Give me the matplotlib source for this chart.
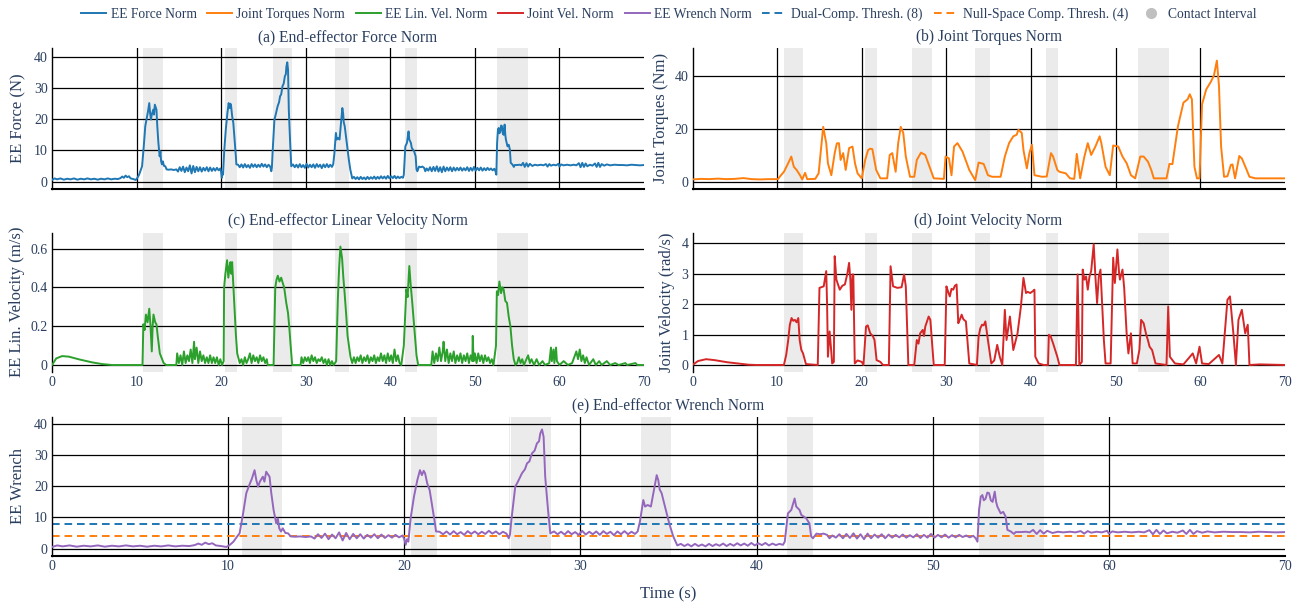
import matplotlib
matplotlib.use("Agg")
import matplotlib.pyplot as plt
from matplotlib.lines import Line2D

plt.rcParams['font.family'] = ['Liberation Serif', 'DejaVu Serif']
plt.rcParams['lines.scale_dashes'] = False

# ---------------- data ----------------
contact_intervals = [(10.78, 13.07), (20.40, 21.84), (25.97, 26.03), (26.08, 28.35),
                     (33.42, 35.14), (41.73, 43.18), (52.63, 56.31)]
dual_thresh = 8
null_thresh = 4

force_pts = [
    (0, 0.5), (0.3, 1.0), (0.6, 0.7), (1.0, 1.0), (1.4, 0.6), (1.8, 0.9), (2.2, 0.7), (2.6, 1.0),
    (3.0, 0.6), (3.4, 0.9), (3.8, 0.7), (4.2, 1.0), (4.6, 0.7), (5.0, 0.9), (5.4, 0.6), (5.8, 0.9),
    (6.2, 0.7), (6.6, 1.0), (7.0, 0.7), (7.4, 0.9), (7.8, 0.8), (8.1, 1.1), (8.3, 1.6), (8.5, 1.2),
    (8.7, 1.9), (8.9, 1.4), (9.1, 1.7), (9.3, 1.0), (9.6, 0.8), (9.9, 0.5), (10.1, 1.2), (10.3, 2.2),
    (10.5, 3.8), (10.65, 4.9), (10.85, 11.3), (11.03, 17.8), (11.2, 20.4), (11.35, 22.5), (11.5, 25.2),
    (11.6, 22.0), (11.7, 19.9), (11.8, 21.5), (11.97, 23.1), (12.06, 21.5), (12.16, 24.7), (12.35, 23.1),
    (12.45, 17.8), (12.58, 12.4), (12.73, 8.1), (12.82, 9.7), (12.9, 6.5), (13.0, 5.5), (13.1, 6.5),
    (13.25, 5.0), (13.4, 4.9), (13.55, 3.9), (13.8, 3.8), (14.1, 3.9), (14.4, 3.7), (14.7, 3.9),
    (14.9, 3.2), (15.1, 4.6), (15.3, 3.4), (15.5, 4.8), (15.7, 3.0), (15.9, 4.5), (16.1, 3.3), (16.3, 5.2),
    (16.5, 2.6), (16.7, 5.0), (16.9, 3.0), (17.1, 4.7), (17.3, 3.3), (17.5, 4.6), (17.7, 3.2), (17.9, 4.4),
    (18.1, 3.5), (18.3, 4.6), (18.5, 3.3), (18.7, 4.5), (18.9, 3.4), (19.1, 4.3), (19.3, 3.5), (19.5, 4.4),
    (19.7, 3.6), (19.9, 4.2), (20.0, 3.0), (20.08, 1.2), (20.15, 3.0), (20.23, 2.2), (20.36, 9.7),
    (20.55, 16.7), (20.74, 22.0), (20.89, 25.2), (21.0, 23.6), (21.1, 25.0), (21.18, 24.2), (21.3, 21.0),
    (21.44, 18.8), (21.59, 13.5), (21.74, 8.1), (21.8, 5.5),
    (22.0, 5.4), (22.2, 4.6), (22.4, 5.5), (22.6, 4.5), (22.8, 5.6), (23.0, 4.6), (23.2, 5.3), (23.4, 4.4),
    (23.6, 5.6), (23.8, 4.7), (24.0, 5.5), (24.2, 4.6), (24.4, 5.4), (24.6, 4.7), (24.8, 5.7), (25.0, 4.8),
    (25.2, 5.5), (25.4, 4.6), (25.6, 5.4), (25.8, 4.8), (25.93, 3.3), (26.0, 4.5), (26.08, 9.2),
    (26.3, 19.9), (26.45, 21.5), (26.68, 24.2), (26.85, 25.5), (26.97, 27.4), (27.1, 28.0), (27.25, 30.6),
    (27.4, 31.5), (27.53, 33.8), (27.65, 34.5), (27.72, 37.0), (27.82, 38.3), (27.91, 35.9), (28.0, 23.1),
    (28.16, 12.4), (28.29, 4.9),
    (28.5, 5.5), (28.7, 4.6), (28.9, 5.4), (29.1, 4.5), (29.3, 5.6), (29.5, 4.6), (29.7, 5.3), (29.9, 4.4),
    (30.1, 5.7), (30.3, 4.5), (30.5, 5.4), (30.7, 4.6), (30.9, 5.5), (31.1, 4.4), (31.3, 5.6), (31.5, 4.7),
    (31.7, 5.4), (31.9, 4.3), (32.1, 5.5), (32.3, 4.6), (32.5, 5.6), (32.7, 4.6), (32.9, 5.4), (33.1, 4.7),
    (33.25, 5.5), (33.38, 8.7), (33.57, 15.6), (33.67, 13.5), (33.82, 14.0), (34.0, 13.5), (34.14, 17.8),
    (34.33, 23.6), (34.42, 22.0), (34.5, 19.0), (34.61, 17.8), (34.8, 13.5), (34.99, 9.2), (35.1, 7.0),
    (35.27, 3.9), (35.5, 1.0),
    (35.7, 1.5), (35.9, 0.8), (36.1, 1.4), (36.3, 0.7), (36.5, 1.5), (36.7, 0.8), (36.9, 1.3), (37.1, 0.7),
    (37.3, 1.5), (37.5, 0.8), (37.7, 1.4), (37.9, 0.9), (38.1, 1.6), (38.3, 0.8), (38.5, 1.5), (38.7, 0.9),
    (38.9, 1.7), (39.1, 1.0), (39.3, 1.6), (39.5, 0.9), (39.7, 1.8), (39.9, 1.0), (40.1, 1.7), (40.3, 1.1),
    (40.5, 1.8), (40.7, 1.0), (40.9, 1.6), (41.1, 1.1), (41.3, 1.5), (41.5, 1.2), (41.6, 2.2), (41.78, 11.3),
    (41.97, 12.4), (42.16, 16.1), (42.25, 13.5), (42.44, 12.4), (42.54, 10.8), (42.7, 10.2), (42.82, 9.7),
    (43.0, 8.1), (43.1, 3.9), (43.2, 3.3), (43.4, 4.8), (43.6, 4.6), (43.8, 4.8), (44.0, 4.4), (44.14, 3.3),
    (44.3, 4.2), (44.5, 3.5), (44.7, 4.6), (44.9, 3.3), (45.1, 4.7), (45.3, 3.4), (45.5, 4.9), (45.7, 3.2),
    (45.9, 4.6), (46.1, 3.0), (46.3, 4.8), (46.5, 3.3), (46.7, 4.5), (46.9, 3.5), (47.1, 4.6), (47.3, 3.3),
    (47.5, 4.5), (47.7, 3.5), (47.9, 4.4), (48.1, 3.6), (48.3, 4.5), (48.5, 3.5), (48.7, 4.3), (48.9, 3.6),
    (49.1, 4.6), (49.3, 3.4), (49.5, 4.4), (49.7, 3.5), (49.9, 4.7), (50.1, 3.5), (50.3, 4.4), (50.5, 3.6),
    (50.7, 4.5), (50.9, 3.5), (51.1, 4.3), (51.3, 3.6), (51.5, 4.4), (51.7, 3.7), (51.9, 4.2), (52.1, 3.6),
    (52.3, 4.1), (52.44, 3.3), (52.54, 2.2), (52.63, 12.4), (52.73, 16.7), (52.82, 17.2), (52.9, 15.5),
    (53.0, 16.0), (53.1, 18.0), (53.2, 17.8), (53.3, 15.5), (53.4, 15.0), (53.52, 18.3), (53.6, 15.0),
    (53.67, 13.5), (53.86, 11.3), (54.0, 11.8), (54.14, 10.3), (54.24, 6.0), (54.43, 5.5), (54.61, 4.7),
    (54.71, 5.3),
    (55.0, 5.3), (55.3, 5.4), (55.5, 5.2), (55.7, 6.0), (55.9, 4.7), (56.1, 5.9), (56.3, 4.8), (56.5, 5.7),
    (56.8, 5.0), (57.1, 5.4), (57.4, 5.2), (57.8, 5.4), (58.1, 5.2), (58.4, 5.6), (58.6, 4.8), (58.8, 5.6),
    (59.0, 5.1), (59.3, 5.4), (59.6, 5.2), (59.9, 5.7), (60.0, 4.8), (60.2, 5.5), (60.5, 5.2), (60.9, 5.4),
    (61.3, 5.2), (61.7, 5.4), (62.0, 5.2), (62.3, 5.9), (62.5, 4.6), (62.7, 6.0), (62.9, 4.7), (63.1, 5.8),
    (63.3, 4.9), (63.6, 5.4), (63.9, 5.1), (64.2, 5.8), (64.4, 4.7), (64.6, 6.0), (64.8, 4.7), (65.0, 5.6),
    (65.3, 5.1), (65.6, 5.5), (66.0, 5.2), (66.5, 5.4), (67.0, 5.3), (67.5, 5.3), (68.0, 5.2), (68.5, 5.4),
    (69.0, 5.3), (69.5, 5.2), (70.0, 5.3),
]

# the wrench norm trace coincides with the force norm trace in the picture
wrench_pts = list(force_pts)

torque_pts = [
    (0, 0.8), (1, 1.0), (2, 0.9), (3, 1.1), (4, 0.9), (5, 1.0), (6, 1.3), (7, 0.9), (8, 0.8), (9, 0.9),
    (10.1, 0.9), (10.3, 1.8), (10.8, 3.7), (11.3, 6.9), (11.67, 9.5), (11.97, 5.6), (12.3, 4.4),
    (12.7, 2.4), (12.96, 0.8), (13.3, 3.3), (13.55, 0.9), (14.5, 1.0), (14.9, 3.1), (15.44, 20.8),
    (15.8, 14.6), (16.0, 6.9), (16.4, 2.4), (16.8, 10.8), (17.05, 14.5), (17.3, 14.6), (17.5, 8.2),
    (17.8, 10.8), (18.1, 4.4), (18.5, 12.7), (18.9, 13.3), (19.2, 6.9), (19.5, 3.1), (20.0, 1.2),
    (20.4, 8.2), (20.75, 12.0), (21.0, 12.5), (21.25, 12.3), (21.7, 4.4), (22.2, 1.2), (23.0, 1.2),
    (23.3, 10.1), (23.6, 10.8), (24.0, 3.7), (24.3, 14.6), (24.6, 20.8), (24.9, 18.5), (25.2, 9.5),
    (25.7, 1.8), (26.2, 1.8), (26.5, 8.2), (27.0, 11.0), (27.5, 10.1), (28.0, 5.6), (28.5, 1.2),
    (29.7, 1.0), (29.9, 9.5), (30.3, 8.8), (30.6, 2.4), (30.9, 13.3), (31.3, 14.6), (31.9, 11.4),
    (32.7, 4.4), (33.4, 0.5), (33.8, 7.2), (34.4, 6.7), (34.9, 2.4), (35.4, 1.8), (36.4, 1.8),
    (36.9, 9.5), (37.4, 14.6), (37.9, 17.2), (38.3, 17.8), (38.5, 19.7), (38.9, 18.5), (39.1, 12.0),
    (39.5, 5.0), (39.8, 10.8), (40.1, 14.0), (40.4, 2.4), (41.3, 1.8), (41.85, 1.9), (42.35, 10.8),
    (42.6, 9.5), (43.1, 4.4), (43.35, 3.7), (44.1, 3.1), (44.6, 1.2), (45.1, 1.0), (45.4, 10.5),
    (45.8, 1.2), (46.3, 9.5), (46.7, 14.6), (47.1, 10.1), (47.6, 13.3), (48.1, 17.2), (48.3, 14.6),
    (48.8, 5.6), (49.3, 2.4), (49.7, 13.7), (50.3, 13.3), (50.8, 9.5), (51.3, 6.9), (51.8, 2.4),
    (52.3, 1.2), (52.9, 9.5), (53.3, 9.5), (53.8, 7.6), (54.2, 4.4), (54.5, 1.2), (56.0, 1.2),
    (56.35, 6.7), (56.7, 6.6), (57.35, 21.0), (58.0, 30.0), (58.5, 31.3), (58.75, 33.2), (59.0, 31.3),
    (59.3, 5.6), (59.6, 1.2), (59.9, 1.2), (60.2, 29.4), (60.7, 35.1), (61.2, 37.7), (61.6, 40.3),
    (61.95, 46.0), (62.2, 36.4), (62.45, 13.3), (62.8, 1.8), (63.2, 2.0), (63.6, 6.3), (63.8, 6.5),
    (64.1, 1.2), (64.6, 9.7), (64.9, 8.8), (65.4, 5.0), (65.8, 1.8), (66.5, 1.2), (70.0, 1.2),
]

linvel_pts = [
    (0, 0.0), (0.5, 0.034), (1.2, 0.046), (2.0, 0.043), (3.2, 0.029), (4.7, 0.014), (5.9, 0.005),
    (7.1, 0.0), (10.7, 0.0), (10.8, 0.21), (10.95, 0.18), (11.1, 0.26), (11.3, 0.22), (11.5, 0.29),
    (11.65, 0.20), (11.8, 0.07), (11.9, 0.20), (12.0, 0.26), (12.2, 0.22), (12.35, 0.21), (12.5, 0.15),
    (12.75, 0.06), (13.2, 0.01), (13.5, 0.0), (14.7, 0.0),
    (14.8, 0.06), (15.0, 0.01), (15.2, 0.05), (15.4, 0.0), (15.6, 0.07), (15.8, 0.01), (16.0, 0.05),
    (16.2, 0.02), (16.4, 0.08), (16.6, 0.01), (16.8, 0.12), (16.9, 0.03), (17.1, 0.09), (17.3, 0.01),
    (17.5, 0.07), (17.7, 0.02), (17.9, 0.05), (18.1, 0.01), (18.3, 0.04), (18.5, 0.01), (18.7, 0.05),
    (18.9, 0.01), (19.1, 0.04), (19.3, 0.01), (19.5, 0.04), (19.7, 0.0), (19.9, 0.03), (20.1, 0.0),
    (20.3, 0.02), (20.35, 0.40), (20.5, 0.47), (20.7, 0.54), (20.85, 0.45), (21.0, 0.51), (21.1, 0.53),
    (21.2, 0.47), (21.3, 0.53), (21.45, 0.40), (21.6, 0.28), (21.75, 0.15), (21.9, 0.06), (22.2, 0.01),
    (22.4, 0.03), (22.6, 0.0), (22.8, 0.04), (23.0, 0.01), (23.2, 0.03), (23.4, 0.06), (23.6, 0.01),
    (23.8, 0.05), (24.0, 0.02), (24.2, 0.04), (24.4, 0.01), (24.6, 0.05), (24.8, 0.02), (25.0, 0.04),
    (25.2, 0.01), (25.4, 0.03), (25.5, 0.0), (26.2, 0.0), (26.4, 0.40), (26.55, 0.44), (26.7, 0.46),
    (26.9, 0.43), (27.1, 0.45), (27.3, 0.42), (27.45, 0.40), (27.7, 0.32), (27.9, 0.27), (28.05, 0.20),
    (28.2, 0.11), (28.4, 0.0), (29.4, 0.0), (29.5, 0.04), (29.7, 0.01), (29.9, 0.04), (30.1, 0.02),
    (30.3, 0.04), (30.5, 0.01), (30.7, 0.05), (30.9, 0.02), (31.1, 0.04), (31.3, 0.01), (31.5, 0.03),
    (31.7, 0.02), (31.9, 0.04), (32.1, 0.01), (32.3, 0.03), (32.5, 0.0), (32.7, 0.03), (32.9, 0.0),
    (33.1, 0.02), (33.3, 0.0), (33.6, 0.02), (33.8, 0.34), (33.95, 0.50), (34.1, 0.61), (34.2, 0.58),
    (34.3, 0.55), (34.45, 0.45), (34.6, 0.37), (34.8, 0.25), (34.95, 0.15), (35.3, 0.04),
    (35.5, 0.01), (35.7, 0.04), (35.9, 0.01), (36.1, 0.04), (36.3, 0.02), (36.5, 0.05), (36.7, 0.01),
    (36.9, 0.04), (37.1, 0.02), (37.3, 0.05), (37.5, 0.01), (37.7, 0.04), (37.9, 0.02), (38.1, 0.05),
    (38.3, 0.01), (38.5, 0.04), (38.7, 0.02), (38.9, 0.06), (39.1, 0.02), (39.3, 0.05), (39.5, 0.01),
    (39.7, 0.06), (39.9, 0.02), (40.1, 0.05), (40.3, 0.01), (40.5, 0.08), (40.7, 0.02), (40.9, 0.05),
    (41.1, 0.01), (41.3, 0.0), (41.6, 0.10), (41.9, 0.39), (42.05, 0.35), (42.25, 0.51), (42.4, 0.42),
    (42.6, 0.32), (42.9, 0.16), (43.1, 0.05), (43.3, 0.0), (44.85, 0.0),
    (45.0, 0.07), (45.2, 0.01), (45.4, 0.06), (45.6, 0.02), (45.8, 0.09), (46.0, 0.02), (46.2, 0.07),
    (46.3, 0.12), (46.5, 0.02), (46.7, 0.08), (46.9, 0.01), (47.1, 0.06), (47.3, 0.02), (47.5, 0.07),
    (47.7, 0.01), (47.9, 0.05), (48.1, 0.02), (48.3, 0.06), (48.5, 0.01), (48.7, 0.05), (48.9, 0.02),
    (49.1, 0.06), (49.3, 0.01), (49.5, 0.05), (49.7, 0.02), (49.75, 0.15), (49.85, 0.02), (50.0, 0.06),
    (50.2, 0.01), (50.4, 0.06), (50.6, 0.02), (50.8, 0.05), (51.0, 0.01), (51.2, 0.05), (51.4, 0.02),
    (51.6, 0.04), (51.8, 0.01), (52.0, 0.03), (52.2, 0.0), (52.5, 0.10), (52.6, 0.38), (52.75, 0.36),
    (52.9, 0.43), (53.1, 0.37), (53.25, 0.40), (53.4, 0.39), (53.6, 0.33), (53.8, 0.32), (54.0, 0.25),
    (54.2, 0.20), (54.4, 0.10), (54.6, 0.03), (54.8, 0.0), (55.0, 0.01), (55.2, 0.04), (55.4, 0.01),
    (55.6, 0.03), (55.8, 0.0), (56.0, 0.02), (56.3, 0.05), (56.5, 0.01), (56.7, 0.03), (57.0, 0.0),
    (57.3, 0.03), (57.6, 0.0), (58.0, 0.02), (58.3, 0.0), (58.8, 0.01), (59.0, 0.09), (59.1, 0.02),
    (59.3, 0.08), (59.4, 0.01), (59.6, 0.09), (59.7, 0.02), (60.0, 0.0), (60.5, 0.02), (61.0, 0.0),
    (61.5, 0.01), (62.0, 0.07), (62.2, 0.03), (62.4, 0.08), (62.6, 0.02), (62.8, 0.05), (63.0, 0.01),
    (63.2, 0.04), (63.5, 0.0), (64.0, 0.03), (64.3, 0.0), (64.7, 0.02), (65.0, 0.0), (65.6, 0.02),
    (66.0, 0.0), (66.6, 0.01), (67.0, 0.0), (67.8, 0.01), (68.0, 0.0), (69.0, 0.01), (69.2, 0.0),
    (70.0, 0.0),
]

jointvel_pts = [
    (0, 0.0), (0.65, 0.13), (1.6, 0.19), (2.6, 0.16), (4.1, 0.09), (5.6, 0.04), (6.6, 0.01), (7.5, 0.0),
    (10.8, 0.0), (11.07, 0.33), (11.3, 0.80), (11.5, 1.32), (11.7, 1.54), (11.9, 1.45), (12.1, 1.48),
    (12.3, 1.40), (12.5, 1.54), (12.66, 0.82), (12.85, 0.50), (13.06, 0.38), (13.4, 0.03), (14.8, 0.0),
    (15.0, 2.53), (15.5, 2.58), (15.8, 3.08), (15.9, 2.0), (16.0, 0.27), (16.2, 1.10), (16.35, 0.60),
    (16.5, 0.05), (16.7, 0.10), (16.8, 3.57), (17.0, 2.80), (17.4, 2.47), (17.7, 2.60), (18.0, 2.64),
    (18.3, 3.00), (18.5, 3.35), (18.65, 2.80), (18.77, 1.81), (18.9, 2.97), (19.0, 2.97), (19.17, 0.05),
    (19.5, 0.15), (20.0, 0.10), (20.2, 0.0), (20.5, 1.26), (20.7, 1.30), (21.0, 1.04), (21.3, 0.95),
    (21.5, 0.82), (21.75, 0.16), (22.2, 0.10), (22.5, 0.0), (23.2, 0.0), (23.4, 3.24), (23.7, 2.58),
    (24.2, 2.53), (24.7, 2.55), (25.0, 2.97), (25.2, 2.58), (25.5, 0.0), (26.2, 0.0), (26.5, 0.82),
    (26.7, 0.70), (26.9, 1.04), (27.2, 1.15), (27.35, 0.95), (27.5, 1.26), (27.9, 1.59), (28.1, 1.48),
    (28.5, 0.0), (29.8, 0.0), (30.0, 2.58), (30.2, 2.40), (30.4, 2.25), (30.6, 2.50), (30.8, 2.47),
    (31.0, 2.60), (31.2, 2.64), (31.4, 1.37), (31.6, 1.50), (31.8, 1.65), (32.0, 1.50), (32.3, 1.43),
    (32.7, 0.05), (33.6, 0.0), (33.8, 0.93), (34.0, 1.20), (34.2, 1.32), (34.4, 1.30), (34.6, 1.43),
    (34.9, 0.82), (35.3, 0.05), (35.65, 0.15), (36.0, 0.66), (36.3, 0.27), (36.6, 0.0), (36.9, 1.81),
    (37.1, 0.82), (37.5, 1.59), (37.9, 0.49), (38.4, 1.04), (38.8, 1.92), (39.1, 2.86), (39.4, 2.36),
    (39.6, 2.40), (39.9, 2.36), (40.2, 2.42), (40.4, 2.47), (40.5, 0.27), (40.9, 0.05), (41.5, 0.0),
    (42.0, 0.0), (42.1, 0.99), (42.3, 0.95), (42.6, 0.71), (42.9, 0.45), (43.1, 0.27), (43.35, 0.0),
    (45.3, 0.0), (45.5, 2.97), (45.7, 0.0), (46.0, 0.10), (46.1, 3.13), (46.3, 2.80), (46.5, 2.90),
    (46.7, 2.47), (46.9, 2.90), (47.1, 3.08), (47.4, 3.96), (47.6, 2.90), (47.8, 2.03), (48.0, 2.90),
    (48.2, 3.13), (48.6, 0.82), (48.8, 0.05), (49.4, 0.05), (49.7, 3.52), (49.9, 2.69), (50.2, 3.79),
    (50.4, 3.00), (50.5, 2.80), (50.8, 3.13), (51.0, 2.53), (51.3, 0.99), (51.5, 0.38), (51.8, 1.04),
    (52.0, 0.05), (52.5, 0.05), (52.8, 0.50), (53.0, 1.48), (53.3, 1.37), (53.6, 1.00), (53.8, 0.82),
    (54.0, 0.60), (54.3, 0.49), (54.7, 0.05), (56.0, 0.0), (56.2, 1.92), (56.4, 0.27), (57.0, 0.05),
    (58.0, 0.02), (59.1, 0.38), (59.5, 0.05), (59.9, 0.60), (60.2, 0.05), (61.0, 0.03), (62.2, 0.33),
    (62.6, 0.05), (63.2, 2.14), (63.5, 2.25), (63.9, 1.04), (64.2, 0.0), (64.5, 1.48), (64.9, 1.81),
    (65.3, 1.04), (65.6, 1.32), (65.8, 0.0), (67.0, 0.02), (70.0, 0.0),
]

x_ticks = [0, 10, 20, 30, 40, 50, 60, 70]
x_grid = [10, 20, 30, 40, 50, 60]

# ---------------- styling ----------------
C_FORCE, C_TORQ, C_LIN, C_JV, C_WR = '#1f77b4', '#ff7f0e', '#2ca02c', '#d62728', '#9467bd'
TXT = '#2a3f5f'
SHADE = '#ebebeb'
W, H = 1298, 605

fig = plt.figure(figsize=(W / 100, H / 100), dpi=100)


def rect(l, t, r, b):
    return [l / W, 1 - b / H, (r - l) / W, (b - t) / H]


def panel(box, pts, color, ylim, yticks, ytl, vgrid, xlabels, bottom_spine):
    ax = fig.add_axes(rect(*box))
    for a, b in contact_intervals:
        ax.axvspan(a, b, color=SHADE, lw=0, zorder=0)
    for yv in yticks:
        ax.axhline(yv, color='black', lw=0.9, zorder=1)
    if vgrid:
        for xv in x_grid:
            ax.axvline(xv, color='black', lw=0.9, zorder=1)
    xs = [p[0] for p in pts]
    ys = [p[1] for p in pts]
    ax.plot(xs, ys, color=color, lw=1.4, zorder=3, solid_joinstyle='round')
    ax.set_xlim(0, 70)
    ax.set_ylim(*ylim)
    ax.set_yticks(yticks)
    ax.set_yticklabels(ytl)
    ax.set_xticks(x_ticks)
    if not xlabels:
        ax.set_xticklabels([])
    ax.tick_params(length=0, labelsize=10, labelcolor=TXT, pad=3)
    for s in ('top', 'right'):
        ax.spines[s].set_visible(False)
    ax.spines['left'].set_color('black')
    ax.spines['left'].set_linewidth(1.0)
    if bottom_spine:
        ax.spines['bottom'].set_color('black')
        ax.spines['bottom'].set_linewidth(1.5)
    else:
        ax.spines['bottom'].set_visible(False)
    return ax


ax_a = panel((52, 48, 644, 189), force_pts, C_FORCE, (-2.4, 42.9), [0, 10, 20, 30, 40],
             ['0', '10', '20', '30', '40'], True, False, True)
ax_b = panel((692.5, 48, 1285, 189), torque_pts, C_TORQ, (-2.85, 50.8), [0, 20, 40],
             ['0', '20', '40'], True, False, True)
ax_c = panel((52, 233, 644, 372), linvel_pts, C_LIN, (-0.036, 0.68), [0, 0.2, 0.4, 0.6],
             ['0', '0.2', '0.4', '0.6'], False, True, False)
ax_d = panel((692.5, 233, 1285, 372), jointvel_pts, C_JV, (-0.23, 4.33), [0, 1, 2, 3, 4],
             ['0', '1', '2', '3', '4'], False, True, False)
ax_e = panel((52, 417, 1285, 556), wrench_pts, C_WR, (-2.4, 42.3), [0, 10, 20, 30, 40],
             ['0', '10', '20', '30', '40'], True, True, True)
ax_e.axhline(dual_thresh, color=C_FORCE, lw=1.4, dashes=(5.5, 3.5), zorder=2)
ax_e.axhline(null_thresh, color=C_TORQ, lw=1.4, dashes=(5.5, 3.5), zorder=2)


def ftext(x, y, s, size, rot=0):
    fig.text(x / W, 1 - y / H, s, fontsize=size, color=TXT, ha='center', va='center', rotation=rot)


ftext(348, 37, '(a) End-effector Force Norm', 11.2)
ftext(988.5, 37, '(b) Joint Torques Norm', 11.2)
ftext(348, 221, '(c) End-effector Linear Velocity Norm', 11.2)
ftext(988.5, 221, '(d) Joint Velocity Norm', 11.2)
ftext(668, 405, '(e) End-effector Wrench Norm', 11.2)

ftext(18, 118, 'EE Force (N)', 12, 90)
ftext(661, 118, 'Joint Torques (Nm)', 12, 90)
ftext(17, 302, 'EE Lin. Velocity (m/s)', 12, 90)
ftext(667, 302, 'Joint Velocity (rad/s)', 12, 90)
ftext(18, 486, 'EE Wrench', 12, 90)
ftext(668, 594, 'Time (s)', 12)

handles = [
    Line2D([], [], color=C_FORCE, lw=1.4),
    Line2D([], [], color=C_TORQ, lw=1.4),
    Line2D([], [], color=C_LIN, lw=1.4),
    Line2D([], [], color=C_JV, lw=1.4),
    Line2D([], [], color=C_WR, lw=1.4),
    Line2D([], [], color=C_FORCE, lw=1.4, dashes=(5.5, 3.5)),
    Line2D([], [], color=C_TORQ, lw=1.4, dashes=(5.5, 3.5)),
    Line2D([], [], color='#c0c0c0', lw=0, marker='o', markersize=7),
]
labels = ['EE Force Norm', 'Joint Torques Norm', 'EE Lin. Vel. Norm', 'Joint Vel. Norm',
          'EE Wrench Norm', 'Dual-Comp. Thresh. (8)', 'Null-Space Comp. Thresh. (4)', 'Contact Interval']
leg = fig.legend(handles, labels, loc='center', bbox_to_anchor=(669 / W, 1 - 14 / H), ncol=8,
                 frameon=False, fontsize=9.8, handlelength=1.85, handletextpad=0.3,
                 columnspacing=0.78, borderpad=0, borderaxespad=0)
for t in leg.get_texts():
    t.set_color(TXT)

fig.savefig('out.png', dpi=100)
